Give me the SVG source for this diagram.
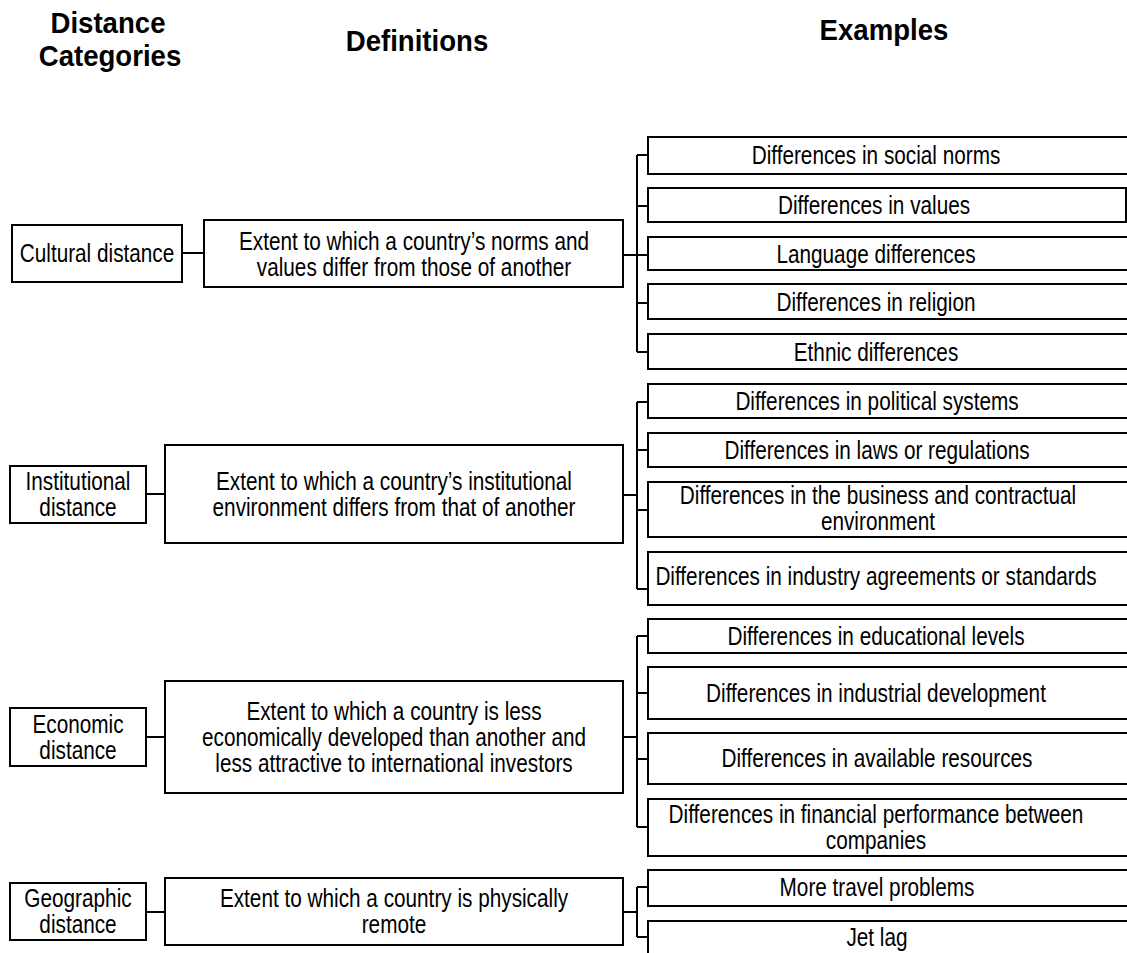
<svg xmlns="http://www.w3.org/2000/svg" width="1127" height="953" viewBox="0 0 1127 953">
<style>
.box{fill:#fff;stroke:#000;stroke-width:2}
.ln{fill:none;stroke:#000;stroke-width:2}
text{font-family:"Liberation Sans",Arial,sans-serif;fill:#000;text-anchor:middle}
.t{font-size:25px}
.h{font-size:30px;font-weight:bold}
</style>
<rect width="1127" height="953" fill="#fff"/>
<g id="headers">
<text class="h" transform="translate(108,33) scale(0.92,1)">Distance</text>
<text class="h" transform="translate(110,66) scale(0.92,1)">Categories</text>
<text class="h" transform="translate(417,51) scale(0.92,1)">Definitions</text>
<text class="h" transform="translate(884,40) scale(0.92,1)">Examples</text>
</g>
<g id="connectors">
<path class="ln" d="M182 253H204M623 255H637M637 155V352M637 155H648M637 206H648M637 255H648M637 303H648M637 352H648"/>
<path class="ln" d="M146 494H165M623 495H637M637 402V589M637 402H648M637 450H648M637 510H648M637 589H648"/>
<path class="ln" d="M146 737H165M623 737H637M637 636V827M637 636H648M637 693H648M637 759H648M637 827H648"/>
<path class="ln" d="M146 912H165M623 912H637M637 887V937M637 887H648M637 937H648"/>
</g>
<g id="cat-cultural"><rect class="box" x="12" y="225" width="170" height="57"/><text class="t" transform="translate(97,262) scale(0.83,1)">Cultural distance</text></g>
<g id="cat-institutional"><rect class="box" x="10" y="466" width="136" height="57"/><text class="t" transform="translate(78,490) scale(0.83,1)">Institutional</text><text class="t" transform="translate(78,516) scale(0.83,1)">distance</text></g>
<g id="cat-economic"><rect class="box" x="10" y="708" width="136" height="58"/><text class="t" transform="translate(78,733) scale(0.83,1)">Economic</text><text class="t" transform="translate(78,759) scale(0.83,1)">distance</text></g>
<g id="cat-geographic"><rect class="box" x="10" y="883" width="136" height="57"/><text class="t" transform="translate(78,907) scale(0.83,1)">Geographic</text><text class="t" transform="translate(78,933) scale(0.83,1)">distance</text></g>
<g id="def-cultural"><rect class="box" x="204" y="220" width="419" height="67"/><text class="t" transform="translate(414,250) scale(0.83,1)">Extent to which a country’s norms and</text><text class="t" transform="translate(414,276) scale(0.83,1)">values differ from those of another</text></g>
<g id="def-institutional"><rect class="box" x="165" y="445" width="458" height="98"/><text class="t" transform="translate(394,490) scale(0.83,1)">Extent to which a country’s institutional</text><text class="t" transform="translate(394,516) scale(0.83,1)">environment differs from that of another</text></g>
<g id="def-economic"><rect class="box" x="165" y="681" width="458" height="112"/><text class="t" transform="translate(394,720) scale(0.83,1)">Extent to which a country is less</text><text class="t" transform="translate(394,746) scale(0.83,1)">economically developed than another and</text><text class="t" transform="translate(394,772) scale(0.83,1)">less attractive to international investors</text></g>
<g id="def-geographic"><rect class="box" x="165" y="878" width="458" height="67"/><text class="t" transform="translate(394,907) scale(0.83,1)">Extent to which a country is physically</text><text class="t" transform="translate(394,933) scale(0.83,1)">remote</text></g>
<g id="ex-social-norms"><rect class="box" x="648" y="137" width="490" height="37"/><text class="t" transform="translate(876,164) scale(0.83,1)">Differences in social norms</text></g>
<g id="ex-values"><rect class="box" x="648" y="188" width="478" height="34"/><text class="t" transform="translate(874,214) scale(0.83,1)">Differences in values</text></g>
<g id="ex-language"><rect class="box" x="648" y="237" width="490" height="33"/><text class="t" transform="translate(876,263) scale(0.83,1)">Language differences</text></g>
<g id="ex-religion"><rect class="box" x="648" y="284" width="490" height="35"/><text class="t" transform="translate(876,311) scale(0.83,1)">Differences in religion</text></g>
<g id="ex-ethnic"><rect class="box" x="648" y="334" width="490" height="35"/><text class="t" transform="translate(876,361) scale(0.83,1)">Ethnic differences</text></g>
<g id="ex-political"><rect class="box" x="648" y="384" width="490" height="34"/><text class="t" transform="translate(877,410) scale(0.83,1)">Differences in political systems</text></g>
<g id="ex-laws"><rect class="box" x="648" y="433" width="490" height="34"/><text class="t" transform="translate(877,459) scale(0.83,1)">Differences in laws or regulations</text></g>
<g id="ex-business"><rect class="box" x="648" y="482" width="490" height="55"/><text class="t" transform="translate(878,504) scale(0.83,1)">Differences in the business and contractual</text><text class="t" transform="translate(878,530) scale(0.83,1)">environment</text></g>
<g id="ex-industry"><rect class="box" x="648" y="552" width="490" height="53"/><text class="t" transform="translate(876,585) scale(0.83,1)">Differences in industry agreements or standards</text></g>
<g id="ex-education"><rect class="box" x="648" y="619" width="490" height="34"/><text class="t" transform="translate(876,645) scale(0.83,1)">Differences in educational levels</text></g>
<g id="ex-industrial"><rect class="box" x="648" y="667" width="490" height="52"/><text class="t" transform="translate(876,702) scale(0.83,1)">Differences in industrial development</text></g>
<g id="ex-resources"><rect class="box" x="648" y="733" width="490" height="51"/><text class="t" transform="translate(877,767) scale(0.83,1)">Differences in available resources</text></g>
<g id="ex-financial"><rect class="box" x="648" y="799" width="490" height="57"/><text class="t" transform="translate(876,823) scale(0.83,1)">Differences in financial performance between</text><text class="t" transform="translate(876,849) scale(0.83,1)">companies</text></g>
<g id="ex-travel"><rect class="box" x="648" y="870" width="490" height="36"/><text class="t" transform="translate(877,896) scale(0.83,1)">More travel problems</text></g>
<g id="ex-jetlag"><rect class="box" x="648" y="921" width="490" height="50"/><text class="t" transform="translate(877,946) scale(0.83,1)">Jet lag</text></g>
</svg>
